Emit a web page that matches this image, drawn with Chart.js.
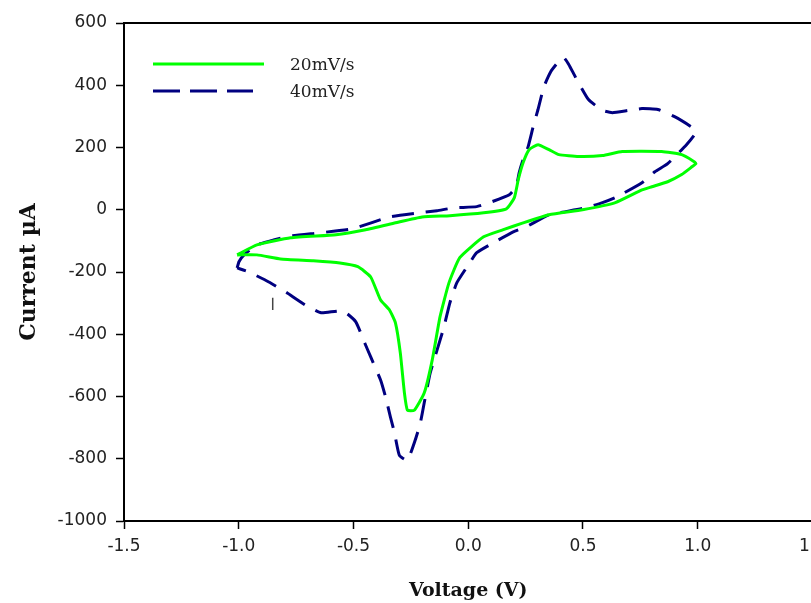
<!DOCTYPE html>
<html>
<head>
<meta charset="utf-8">
<script src="https://cdn.jsdelivr.net/npm/chart.js@4/dist/chart.umd.min.js"></script>
<style>
  html, body { margin: 0; padding: 0; background: #fff; overflow: hidden; width: 811px; height: 603px; }
  #wrap { width: 833px; height: 603px; }
</style>
</head>
<body>
<div id="wrap"><canvas id="c" width="833" height="603"></canvas></div>
<script>
// ---- data ----
const seriesNames = ['20mV/s', '40mV/s'];

// 20 mV/s loop: forward (upper) branch left->right, then reverse (lower) branch right->left
const volt20 = [-1.007,-0.921,-0.774,-0.576,-0.447,-0.317,-0.201,-0.080,0.067,0.166,0.201,0.218,0.239,0.265,0.304,0.352,0.395,0.481,0.585,0.671,0.843,0.930,0.981,0.992,
  0.975,0.930,0.869,0.800,0.757,0.641,0.498,0.352,0.239,0.153,0.067,-0.037,-0.084,-0.123,-0.157,-0.192,-0.235,-0.265,-0.278,-0.296,-0.317,-0.343,-0.382,-0.425,-0.481,-0.559,-0.675,-0.818,-0.921,-1.007];
const curr20 = [-145,-113,-90,-80,-64,-42,-23,-19,-10,3,39,97,151,193,209,193,177,171,174,187,187,177,156,148,
  138,113,90,74,64,23,0,-16,-42,-64,-87,-154,-235,-344,-483,-589,-644,-644,-589,-460,-364,-322,-290,-216,-183,-171,-164,-158,-145,-145];

// 40 mV/s loop
const volt40 = [-1.007,-0.999,-0.977,-0.921,-0.848,-0.774,-0.645,-0.503,-0.343,-0.214,-0.136,-0.063,0.037,0.093,0.179,0.209,0.222,0.239,0.261,0.283,0.304,0.330,0.360,0.390,0.416,0.438,0.468,0.524,0.585,0.628,0.697,0.757,0.826,0.899,0.977,0.992,
  0.951,0.869,0.813,0.757,0.641,0.585,0.511,0.425,0.352,0.252,0.196,0.110,0.037,0.006,-0.050,-0.080,-0.106,-0.136,-0.166,-0.192,-0.209,-0.231,-0.265,-0.300,-0.321,-0.339,-0.360,-0.382,-0.425,-0.451,-0.490,-0.546,-0.641,-0.710,-0.796,-0.869,-0.956,-1.007];
const curr40 = [-187,-167,-145,-113,-97,-84,-74,-61,-23,-10,-3,6,10,23,48,74,119,161,203,267,322,396,444,473,489,467,425,354,319,312,319,325,322,299,264,248,
  209,148,122,87,39,23,6,-6,-16,-55,-71,-106,-138,-171,-235,-299,-377,-451,-525,-621,-686,-740,-805,-789,-718,-666,-602,-547,-473,-428,-360,-325,-331,-306,-264,-232,-200,-187];

// small stray mark visible in the original figure
const markV = [-0.852, -0.852];
const markI = [-283, -322];

// axis ticks
const xTickValues = [-1.5, -1.0, -0.5, 0.0, 0.5, 1.0, 1.5];
const xTickLabels = ['-1.5', '-1.0', '-0.5', '0.0', '0.5', '1.0', '1.5'];
const yTickValues = [-1000, -800, -600, -400, -200, 0, 200, 400, 600];
const yTickLabels = ['-1000', '-800', '-600', '-400', '-200', '0', '200', '400', '600'];

const toPts = (xs, ys) => xs.map((x, i) => ({ x: x, y: ys[i] }));
const pick = (vals, labels) => (v) => { const i = vals.findIndex(t => Math.abs(t - v) < 1e-9); return i >= 0 ? labels[i] : ''; };

const frameAndLegend = {
  id: 'frameAndLegend',
  afterDraw(chart) {
    const { ctx, chartArea: a } = chart;
    ctx.save();
    ctx.strokeStyle = '#000';
    ctx.lineWidth = 2;
    ctx.beginPath();
    ctx.moveTo(a.left, a.top);
    ctx.lineTo(a.right, a.top);
    ctx.lineTo(a.right, a.bottom);
    ctx.stroke();

    // legend
    const items = [
      { ds: chart.data.datasets[0], y: a.top + 41, len: 111 },
      { ds: chart.data.datasets[1], y: a.top + 68, len: 100 }
    ];
    items.forEach(it => {
      ctx.strokeStyle = it.ds.borderColor;
      ctx.lineWidth = 3;
      ctx.setLineDash(it.ds.borderDash && it.ds.borderDash.length ? [27, 10] : []);
      ctx.beginPath();
      ctx.moveTo(a.left + 29, it.y);
      ctx.lineTo(a.left + 29 + it.len, it.y);
      ctx.stroke();
      ctx.setLineDash([]);
      ctx.fillStyle = '#222';
      ctx.font = '17px "DejaVu Serif"';
      ctx.textBaseline = 'middle';
      ctx.textAlign = 'left';
      ctx.fillText(it.ds.label, a.left + 166, it.y + 2);
    });
    ctx.restore();
  }
};

new Chart(document.getElementById('c'), {
  type: 'scatter',
  data: {
    datasets: [
      {
        label: seriesNames[0],
        data: toPts(volt20, curr20),
        showLine: true,
        borderColor: '#00ff00',
        borderWidth: 3,
        pointRadius: 0,
        tension: 0.15,
        fill: false
      },
      {
        label: seriesNames[1],
        data: toPts(volt40, curr40),
        showLine: true,
        borderColor: '#000080',
        borderWidth: 3,
        borderDash: [22, 12],
        pointRadius: 0,
        tension: 0.15,
        fill: false
      },
      {
        label: 'mark',
        data: toPts(markV, markI),
        showLine: true,
        borderColor: '#444',
        borderWidth: 1.5,
        pointRadius: 0,
        fill: false
      }
    ]
  },
  options: {
    responsive: false,
    animation: false,
    layout: { padding: { top: 23, left: 0, right: 0, bottom: 0 } },
    plugins: { legend: { display: false }, tooltip: { enabled: false } },
    scales: {
      x: {
        type: 'linear',
        min: -1.5,
        max: 1.5,
        afterBuildTicks: s => { s.ticks = xTickValues.map(v => ({ value: v })); },
        afterFit: s => { s.height = 82; },
        ticks: {
          callback: pick(xTickValues, xTickLabels),
          color: '#222',
          font: { family: 'DejaVu Sans', size: 17 },
          padding: 7,
          maxRotation: 0,
          autoSkip: false
        },
        grid: { display: true, drawOnChartArea: false, drawTicks: true, tickLength: 8, tickColor: '#000', tickWidth: 1.5 },
        border: { display: true, color: '#000', width: 2 },
        title: {
          display: true,
          text: 'Voltage (V)',
          color: '#111',
          font: { family: 'DejaVu Serif', size: 19, weight: 'bold' },
          padding: { top: 0, bottom: 1 }
        }
      },
      y: {
        type: 'linear',
        min: -1000,
        max: 600,
        afterBuildTicks: s => { s.ticks = yTickValues.map(v => ({ value: v })); },
        afterFit: s => { s.width = 124; },
        ticks: {
          callback: pick(yTickValues, yTickLabels),
          color: '#222',
          font: { family: 'DejaVu Sans', size: 17 },
          padding: 9
        },
        grid: { display: true, drawOnChartArea: false, drawTicks: true, tickLength: 8, tickColor: '#000', tickWidth: 1.5 },
        border: { display: true, color: '#000', width: 2 },
        title: {
          display: true,
          text: 'Current µA',
          color: '#111',
          font: { family: 'DejaVu Serif', size: 22, weight: 'bold' },
          padding: { top: 16, bottom: 0 }
        }
      }
    }
  },
  plugins: [frameAndLegend]
});
</script>
</body>
</html>
